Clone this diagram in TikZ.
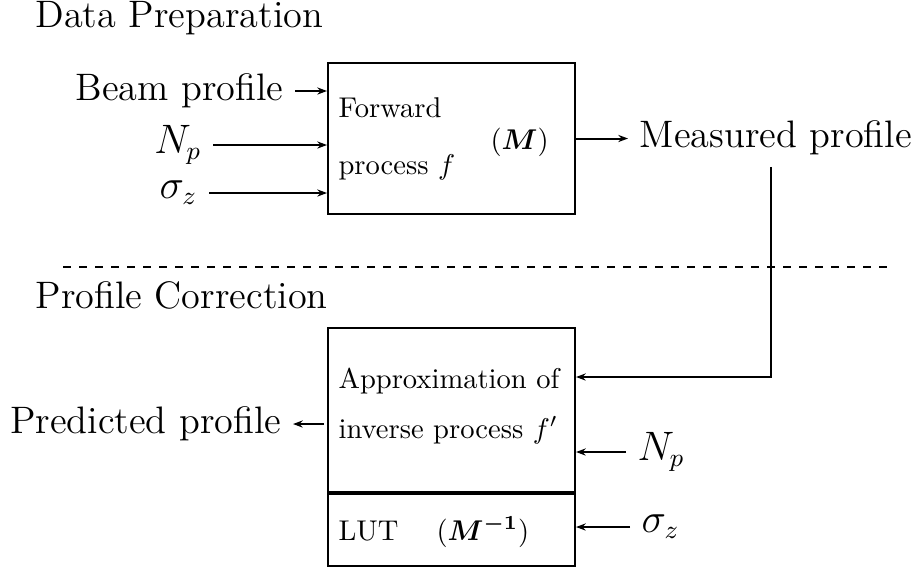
\documentclass[tikz,border=0pt]{standalone}
\usepackage{bm}
\usetikzlibrary{arrows.meta}
\tikzset{
  mainf/.style={font=\fontsize{13.4}{16}\selectfont},
  lbl/.style={mainf, inner sep=3.9pt},
  title/.style={mainf, inner sep=0pt, anchor=base west},
  boxf/.style={font=\fontsize{10}{12}\selectfont, inner sep=0pt, anchor=base west},
  blk/.style={draw, line width=0.7pt, inner sep=0pt, minimum width=86.45pt},
  conn/.style={line width=0.7pt},
  arr/.style={conn, -{Stealth[length=3.4pt,width=2.5pt]}},
  sep/.style={line width=0.7pt, dash pattern=on 2.8pt off 2.8pt}
}
\begin{document}
\begin{tikzpicture}[x=0.35pt, y=-0.35pt]
\useasboundingbox (0,0) rectangle (912,571);

% titles
\node[title] (dp) at (35,27) {Data Preparation};
\node[title] (pc) at (35,308) {Profile Correction};

% separator
\coordinate (dl) at (63,267);
\coordinate (dr) at (893,267);
\draw[sep] (dl) -- (dr);

% top box
\node[blk, minimum height=52.85pt] (top) at (451.5,138.5) {};
\node[boxf] (fw) at (338,117) {Forward};
\node[boxf] (pf) at (338,174) {process $f$};
\node[boxf] (mm) at (490,149) {$(\bm{M})$};

\node[lbl, anchor=east] (beam) at (295,91) {Beam profile};
\node[lbl, anchor=east] (np1) at (213,145) {$N_p$};
\node[lbl, anchor=east] (sz1) at (209,193) {$\sigma_z$};
\draw[arr] (beam.east) -- (beam.east -| top.west);
\draw[arr] (np1.east) -- (np1.east -| top.west);
\draw[arr] (sz1.east) -- (sz1.east -| top.west);

\node[lbl, anchor=west] (meas) at (628,138) {Measured profile};
\draw[arr] (top.east) -- (top.east -| meas.west);

% bottom boxes
\node[blk, minimum height=57.4pt] (inv) at (451.5,410) {};
\node[blk, minimum height=25.2pt] (lut) at (451.5,530) {};
\node[boxf] (ap) at (338,388) {Approximation of};
\node[boxf] (ip) at (338,438) {inverse process $f'$};
\node[boxf] (lt) at (338,540) {LUT\quad\ $(\bm{M^{-1}})$};

\coordinate (turn) at (771,377);
\draw[arr] (meas.south -| turn) -- (turn) -- (turn -| inv.east);

\node[lbl, anchor=east] (pred) at (293,424) {Predicted profile};
\draw[arr] ([xshift=-1.05pt]inv.west |- pred.east) -- (pred.east);

\node[lbl, anchor=west] (np2) at (626,452) {$N_p$};
\draw[arr] (np2.west) -- (np2.west -| inv.east);
\node[lbl, anchor=west] (sz2) at (630,527) {$\sigma_z$};
\draw[arr] (sz2.west) -- (sz2.west -| lut.east);
\end{tikzpicture}
\end{document}
